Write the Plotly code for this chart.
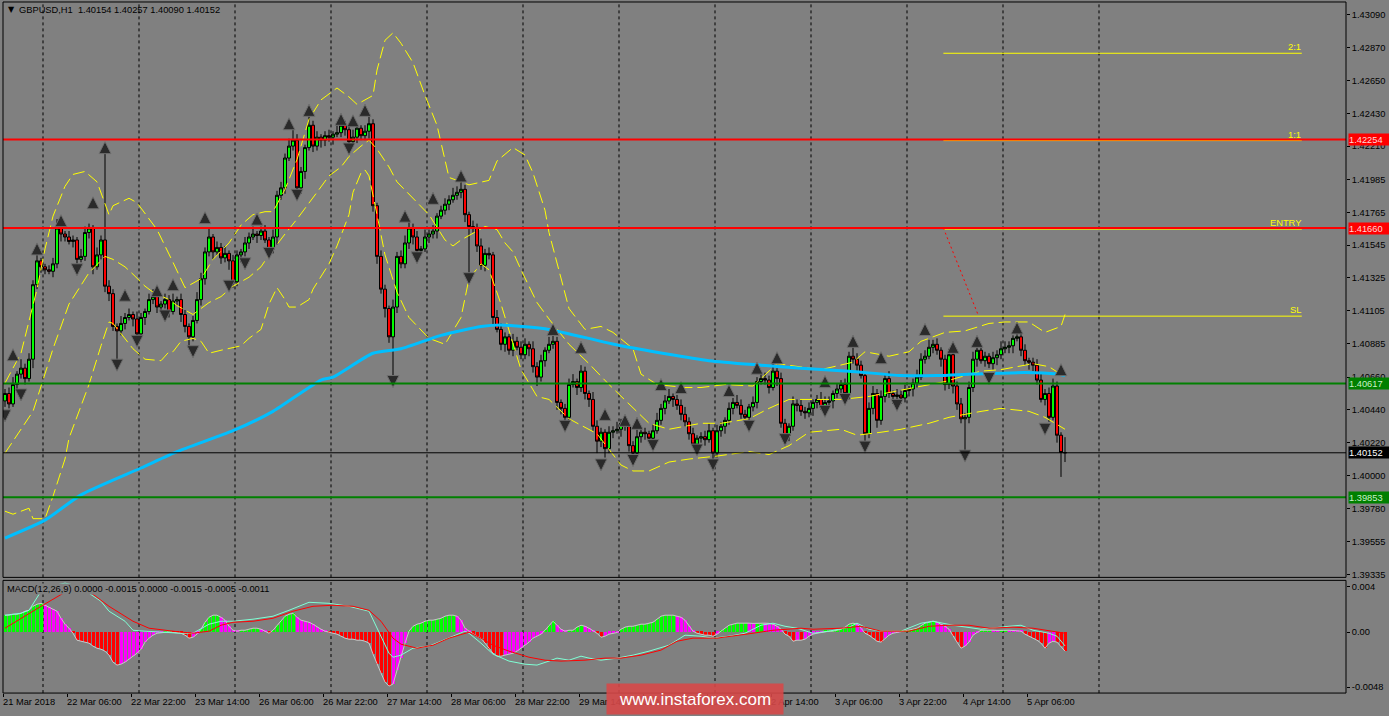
import plotly.graph_objects as go

# ------------------------------------------------------------------ data
symbol_header = "GBPUSD,H1  1.40154 1.40257 1.40090 1.40152"
macd_header = "MACD(12,26,9) 0.0000 -0.0015 0.0000 -0.0015 -0.0005 -0.0011"

x_label_bars = [0, 16, 32, 48, 64, 80, 96, 112, 128, 144, 160, 176, 192, 208, 224, 240, 256]
x_labels = ["21 Mar 2018", "22 Mar 06:00", "22 Mar 22:00", "23 Mar 14:00", "26 Mar 06:00",
            "26 Mar 22:00", "27 Mar 14:00", "28 Mar 06:00", "28 Mar 22:00", "29 Mar 14:00",
            "30 Mar 06:00", "30 Mar 22:00", "2 Apr 14:00", "3 Apr 06:00", "3 Apr 22:00",
            "4 Apr 14:00", "5 Apr 06:00"]
day_start_bars = [10, 34, 58, 82, 106, 130, 154, 178, 202, 226, 250, 274]

first_open = 1.4050
closes = [
    1.4055, 1.4048, 1.4061, 1.4068, 1.4072, 1.4065, 1.4078, 1.4128, 1.4144, 1.4140,
    1.4138, 1.4137, 1.4142, 1.4166, 1.4162, 1.4160, 1.4157, 1.4158, 1.4145, 1.4147,
    1.4163, 1.4166, 1.4140, 1.4148, 1.4158, 1.4127, 1.4122, 1.4100, 1.4097, 1.4102,
    1.4106, 1.4108, 1.4105, 1.4095, 1.4106, 1.4110, 1.4118, 1.4120, 1.4113, 1.4115,
    1.4118, 1.4110, 1.4117, 1.4118, 1.4108, 1.4100, 1.4093, 1.4104, 1.4118, 1.4132,
    1.4150, 1.4160, 1.4150, 1.4153, 1.4146, 1.4149, 1.4144, 1.4130, 1.4148, 1.4150,
    1.4156, 1.4160, 1.4162, 1.4161, 1.4164, 1.4158, 1.4152, 1.4160, 1.4188, 1.4193,
    1.4213, 1.4221, 1.4225, 1.4193, 1.4204, 1.4220, 1.4235, 1.4221, 1.4227, 1.4225,
    1.4228, 1.4227, 1.4229, 1.4230, 1.4235, 1.4232, 1.4224, 1.4227, 1.4233, 1.4228,
    1.4231, 1.4236, 1.4181, 1.4147, 1.4125, 1.4112, 1.4093, 1.4113, 1.4147, 1.4142,
    1.4156, 1.4166, 1.4160, 1.4151, 1.4152, 1.4160, 1.4162, 1.4164, 1.4174, 1.4178,
    1.4182, 1.4185, 1.4188, 1.4190, 1.4192, 1.4175, 1.4167, 1.4166, 1.4154, 1.4141,
    1.4149, 1.4148, 1.4106, 1.4098, 1.4088, 1.4093, 1.4084, 1.4090, 1.4086, 1.4081,
    1.4088, 1.4085, 1.4073, 1.4066, 1.4077, 1.4084, 1.4088, 1.4090, 1.4049, 1.4045,
    1.4039, 1.4061, 1.4063, 1.4059, 1.4070, 1.4055, 1.4051, 1.4033, 1.4023, 1.4029,
    1.4018, 1.4029, 1.4030, 1.4031, 1.4035, 1.4033, 1.4020, 1.4015, 1.4026, 1.4029,
    1.4028, 1.4025, 1.4030, 1.4037, 1.4045, 1.4050, 1.4053, 1.4051, 1.4047, 1.4041,
    1.4036, 1.4028, 1.4021, 1.4025, 1.4026, 1.4024, 1.4030, 1.4015, 1.4030, 1.4033,
    1.4037, 1.4045, 1.4049, 1.4047, 1.4041, 1.4039, 1.4046, 1.4049, 1.4063, 1.4065,
    1.4064, 1.4059, 1.4070, 1.4065, 1.4035, 1.4027, 1.4033, 1.4048, 1.4047, 1.4043,
    1.4042, 1.4045, 1.4049, 1.4051, 1.4046, 1.4049, 1.4050, 1.4055, 1.4058, 1.4061,
    1.4055, 1.4080, 1.4078, 1.4074, 1.4067, 1.4028, 1.4045, 1.4055, 1.4037, 1.4053,
    1.4065, 1.4055, 1.4053, 1.4054, 1.4052, 1.4057, 1.4058, 1.4062, 1.4066, 1.4078,
    1.4080, 1.4086, 1.4088, 1.4084, 1.4078, 1.4061, 1.4081, 1.4060, 1.4048, 1.4038,
    1.4039, 1.4059, 1.4078, 1.4084, 1.4077, 1.4080, 1.4075, 1.4079, 1.4081, 1.4085,
    1.4086, 1.4087, 1.4092, 1.4093, 1.4084, 1.4077, 1.4076, 1.4074, 1.4064, 1.4051,
    1.4055, 1.4039, 1.4060, 1.4027, 1.40154, 1.40152]
wick_up_pips = [
    3, 4, 5, 2, 6, 3, 4, 3, 5, 2,   2, 3, 4, 6, 3, 2, 4, 3, 2, 5,
    4, 3, 2, 5, 3, 62, 4, 3, 2, 5,  3, 4, 2, 5, 3, 2, 4, 5, 3, 2,
    4, 3, 5, 2, 4, 3, 2, 3, 5, 4,   3, 6, 2, 4, 3, 5, 2, 4, 3, 2,
    4, 3, 5, 2, 3, 4, 2, 5, 3, 4,   3, 5, 7, 4, 3, 2, 8, 3, 4, 2,
    3, 4, 2, 5, 2, 3, 4, 5, 3, 2,   4, 7, 3, 2, 4, 3, 2, 5, 3, 4,
    5, 6, 3, 4, 2, 5, 3, 4, 2, 3,   4, 3, 5, 4, 7, 3, 2, 4, 3, 5,
    3, 4, 2, 5, 4, 3, 2, 5, 3, 4,   4, 2, 5, 3, 4, 2, 5, 4, 3, 2,
    3, 4, 5, 2, 4, 3, 2, 5, 4, 3,   2, 4, 3, 5, 3, 4, 2, 3, 5, 4,
    3, 2, 4, 5, 3, 4, 5, 2, 3, 4,   5, 3, 4, 2, 3, 4, 5, 2, 4, 3,
    2, 4, 3, 5, 4, 3, 2, 4, 3, 5,   4, 3, 5, 2, 4, 3, 2, 5, 3, 4,
    3, 4, 2, 3, 5, 4, 3, 2, 4, 3,   4, 3, 7, 4, 3, 2, 4, 5, 3, 4,
    3, 5, 2, 4, 3, 4, 2, 3, 5, 4,   4, 5, 3, 4, 2, 3, 4, 2, 3, 4,
    3, 4, 5, 2, 4, 3, 2, 4, 3, 5,   4, 3, 2, 5, 3, 4, 2, 3, 4, 5,
    3, 4, 5, 3, 2, 10.3]
wick_dn_pips = [
    4, 3, 2, 5, 3, 4, 2, 6, 3, 4,   3, 2, 4, 3, 5, 3, 2, 4, 3, 2,
    3, 4, 5, 2, 3, 4, 5, 3, 24, 3,  4, 2, 5, 4, 3, 5, 2, 3, 4, 3,
    3, 4, 2, 3, 5, 4, 7, 3, 2, 4,   4, 3, 5, 2, 4, 3, 6, 4, 3, 5,
    3, 4, 2, 5, 3, 2, 4, 3, 5, 3,   4, 2, 3, 3, 4, 5, 2, 4, 3, 5,
    4, 3, 5, 2, 3, 4, 2, 3, 4, 3,   3, 5, 4, 5, 3, 6, 4, 28, 4, 3,
    3, 4, 5, 5, 3, 2, 4, 3, 5, 2,   3, 4, 2, 3, 4, 5, 34, 3, 4, 3,
    4, 3, 5, 2, 4, 5, 3, 4, 2, 3,   3, 5, 4, 6, 3, 4, 2, 3, 5, 4,
    4, 3, 2, 5, 3, 4, 5, 3, 8, 4,   6, 3, 4, 2, 5, 3, 4, 7, 3, 4,
    4, 3, 5, 2, 3, 4, 2, 5, 3, 4,   3, 4, 2, 5, 3, 4, 2, 7, 3, 4,
    5, 3, 4, 2, 3, 5, 4, 3, 4, 2,   3, 4, 2, 5, 3, 5, 4, 3, 4, 3,
    4, 3, 5, 4, 2, 3, 4, 5, 3, 4,   3, 4, 3, 5, 2, 6, 3, 4, 5, 3,
    4, 3, 5, 2, 4, 3, 4, 5, 3, 2,   3, 2, 4, 3, 5, 4, 3, 5, 4, 3,
    23, 4, 3, 5, 2, 4, 3, 4, 5, 3,  3, 4, 5, 2, 4, 3, 5, 4, 3, 2,
    4, 3, 2, 5, 16.4, 6.2]

ma_bars = [0, 10, 19, 34, 43, 57, 67, 79, 82, 92, 99, 109, 119, 124, 129, 136, 154, 176,
           189, 199, 211, 224, 233, 242, 255, 263, 265]
ma_values = [1.3958, 1.3970, 1.3987, 1.4005, 1.4016, 1.4030, 1.4043, 1.4064, 1.4066, 1.4082,
             1.4085, 1.4094, 1.4100, 1.4101, 1.4100, 1.4098, 1.4087, 1.4077, 1.4074, 1.4072,
             1.4070, 1.4067, 1.4067, 1.4068, 1.4069, 1.4068, 1.4067]

bb_upper_bars = [0, 4, 8, 10, 12, 15, 17, 20, 23, 26, 27, 31, 33, 36, 38, 42, 45, 49, 52, 56,
                 59, 62, 65, 67, 70, 73, 76, 79, 83, 86, 88, 90, 92, 93, 95, 97, 99, 102, 105, 108,
                 111, 114, 116, 121, 123, 127, 130, 132, 135, 136, 139, 141, 145, 149, 152, 157,
                 159, 163, 170, 174, 180, 187, 193, 198, 204, 212, 215, 221, 226, 229, 235, 240,
                 246, 250, 256, 260, 264, 265]
bb_upper = [1.4062, 1.4082, 1.4125, 1.4152, 1.4174, 1.4194, 1.4202, 1.4204, 1.4197, 1.4175,
            1.4181, 1.4186, 1.4183, 1.4172, 1.4165, 1.4143, 1.4126, 1.4132, 1.4145, 1.4156,
            1.4168, 1.4175, 1.4177, 1.4177, 1.4192, 1.4212, 1.4239, 1.4252, 1.4260, 1.4254,
            1.4249, 1.4252, 1.4255, 1.4272, 1.4292, 1.4297, 1.4290, 1.4277, 1.4255, 1.4235,
            1.4200, 1.4197, 1.4195, 1.4198, 1.4211, 1.4220, 1.4215, 1.4203, 1.4178, 1.4163,
            1.4132, 1.4112, 1.4098, 1.4100, 1.4096, 1.4085, 1.4068, 1.4061, 1.4059, 1.4059,
            1.4061, 1.4060, 1.4075, 1.4073, 1.4071, 1.4076, 1.4083, 1.4080, 1.4083, 1.4090,
            1.4096, 1.4097, 1.4102, 1.4103, 1.4103, 1.4096, 1.4100, 1.4108]
bb_mid_bars = [0, 7, 12, 16, 21, 25, 27, 30, 32, 35, 37, 41, 43, 47, 51, 54, 57, 61, 64, 66,
               70, 73, 78, 81, 84, 86, 89, 91, 93, 96, 98, 101, 103, 106, 110, 112, 114, 120,
               123, 125, 127, 129, 133, 136, 141, 146, 151, 156, 161, 166, 174, 179, 186, 191,
               196, 202, 209, 216, 224, 228, 235, 240, 244, 249, 253, 257, 261, 265]
bb_mid = [1.4015, 1.4043, 1.4085, 1.4115, 1.4136, 1.4147, 1.4145, 1.4140, 1.4135, 1.4127,
          1.4123, 1.4118, 1.4114, 1.4108, 1.4116, 1.4120, 1.4127, 1.4133, 1.4140, 1.4148,
          1.4162, 1.4172, 1.4190, 1.4201, 1.4207, 1.4214, 1.4221, 1.4225, 1.4219, 1.4207,
          1.4197, 1.4189, 1.4183, 1.4175, 1.4158, 1.4154, 1.4158, 1.4167, 1.4165, 1.4156,
          1.4150, 1.4138, 1.4116, 1.4105, 1.4088, 1.4075, 1.4061, 1.4048, 1.4035, 1.4031,
          1.4035, 1.4035, 1.4038, 1.4045, 1.4051, 1.4051, 1.4051, 1.4053, 1.4057, 1.4059,
          1.4063, 1.4067, 1.4070, 1.4071, 1.4073, 1.4075, 1.4073, 1.4066]
bb_lower_bars = [0, 2, 4, 6, 7, 10, 12, 15, 16, 19, 21, 24, 26, 27, 30, 32, 35, 39, 41, 42,
                 44, 47, 49, 51, 54, 56, 59, 61, 64, 66, 68, 70, 71, 73, 76, 77, 81, 83, 86, 87,
                 89, 90, 91, 93, 95, 98, 101, 106, 110, 114, 116, 119, 121, 124, 129, 133, 136,
                 141, 148, 154, 157, 161, 166, 171, 178, 186, 191, 196, 201, 209, 213, 219, 224,
                 231, 236, 244, 249, 256, 260, 265]
bb_lower = [1.3976, 1.3974, 1.3976, 1.3978, 1.3971, 1.3971, 1.3986, 1.4011, 1.4025, 1.4046,
            1.4061, 1.4087, 1.4103, 1.4102, 1.4092, 1.4085, 1.4078, 1.4077, 1.4083, 1.4083,
            1.4090, 1.4092, 1.4090, 1.4082, 1.4084, 1.4085, 1.4087, 1.4092, 1.4098, 1.4115,
            1.4126, 1.4118, 1.4113, 1.4113, 1.4118, 1.4125, 1.4142, 1.4154, 1.4175, 1.4190,
            1.4203, 1.4205, 1.4201, 1.4175, 1.4148, 1.4123, 1.4106, 1.4092, 1.4088, 1.4106,
            1.4132, 1.4142, 1.4138, 1.4115, 1.4071, 1.4053, 1.4051, 1.4038, 1.4028, 1.4007,
            1.4003, 1.4003, 1.4009, 1.4011, 1.4013, 1.4016, 1.4014, 1.4020, 1.4029, 1.4031,
            1.4027, 1.4029, 1.4031, 1.4035, 1.4039, 1.4043, 1.4045, 1.4043, 1.4039, 1.4031]

fractal_up_bars = [2, 8, 14, 22, 25, 30, 38, 42, 50, 63, 71, 76, 84, 87, 90, 100, 107, 114,
                   137, 144, 150, 155, 158, 164, 169, 181, 188, 193, 205, 212, 219, 230, 237,
                   243, 253, 264]
fractal_up_prices = [1.4085, 1.4156, 1.4175, 1.4187, 1.4224, 1.4125, 1.4128, 1.4132, 1.4177,
                     1.4176, 1.4240, 1.4249, 1.4243, 1.4242, 1.4249, 1.4178, 1.4190, 1.4205,
                     1.4102, 1.4090, 1.4045, 1.4041, 1.4039, 1.4065, 1.4063, 1.4061, 1.4076,
                     1.4083, 1.4067, 1.4094, 1.4083, 1.4102, 1.4090, 1.4094, 1.4103, 1.4075]
fractal_dn_bars = [0, 4, 18, 28, 33, 40, 47, 56, 60, 66, 73, 86, 97, 103, 116, 140, 149, 157,
                   162, 173, 177, 186, 195, 205, 210, 215, 223, 240, 246, 260]
fractal_dn_prices = [1.4036, 1.4050, 1.4134, 1.4070, 1.4086, 1.4103, 1.4079, 1.4123, 1.4138,
                     1.4145, 1.4184, 1.4215, 1.4059, 1.4142, 1.4128, 1.4029, 1.4003, 1.4006,
                     1.4016, 1.4013, 1.4003, 1.4029, 1.4020, 1.4039, 1.4047, 1.4015, 1.4043,
                     1.4009, 1.4061, 1.4027]

macd_hist = [
    0.00149, 0.00149, 0.00157, 0.00157, 0.00166, 0.00184, 0.00192, 0.00227, 0.00245, 0.00253,
    0.00236, 0.00219, 0.00201, 0.00184, 0.00122, 0.0007, 0.00035, -0.00009, -0.0007, -0.00079,
    -0.00087, -0.00096, -0.00122, -0.0014, -0.00149, -0.00166, -0.00201, -0.00262, -0.00288, -0.0028,
    -0.00262, -0.00236, -0.0021, -0.00184, -0.00149, -0.00087, -0.00052, -0.00026, -0.00009, -0.00004,
    0.00002, 0.00003, -0.00002, -0.00004, -0.00009, -0.00026, -0.00052, -0.00044, -0.00017, 0.00026,
    0.00087, 0.00131, 0.00149, 0.00149, 0.00131, 0.00105, 0.00052, 0.00017, 0.00009, 0.00017,
    0.00017, 0.00026, 0.00035, 0.00035, 0.00026, 0.00009, -0.00009, 0.00017, 0.00061, 0.00105,
    0.0014, 0.00157, 0.00166, 0.00131, 0.00105, 0.00096, 0.00087, 0.0007, 0.00044, 0.00026,
    0.00009, -0.00003, -0.00009, -0.00017, -0.00035, -0.00052, -0.00061, -0.00061, -0.0007, -0.0007,
    -0.00079, -0.00096, -0.00192, -0.0028, -0.00358, -0.00437, -0.00472, -0.00454, -0.00332, -0.00227,
    -0.00096, 0.00009, 0.00052, 0.0007, 0.00079, 0.00096, 0.00105, 0.00105, 0.00114, 0.00122,
    0.0014, 0.00149, 0.00149, 0.0014, 0.00105, 0.00035, 0.00009, -0.00017, -0.00035, -0.00052,
    -0.00096, -0.00149, -0.00184, -0.0021, -0.0021, -0.00201, -0.00192, -0.00184, -0.00166, -0.0014,
    -0.00114, -0.00087, -0.00052, -0.00035, -0.00017, 0.00017, 0.00061, 0.00096, 0.00061, 0.00026,
    0.00009, 0.00017, 0.00017, 0.00044, 0.00061, 0.00052, 0.00035, 0.00009, -0.00009, -0.00044,
    -0.00035, -0.00017, -0.00009, -0.00003, 0.00026, 0.00044, 0.00052, 0.00052, 0.00061, 0.0007,
    0.0007, 0.00079, 0.00087, 0.00114, 0.0014, 0.00149, 0.00149, 0.00149, 0.0014, 0.00131,
    0.00105, 0.00052, 0.00009, -0.00009, -0.00017, -0.00026, -0.00026, -0.00035, -0.00017, 0.00009,
    0.00035, 0.00061, 0.0007, 0.00079, 0.00079, 0.00081, 0.00079, 0.00077, 0.00079, 0.00081,
    0.00079, 0.00077, 0.0007, 0.00052, 0.00026, -0.00017, -0.00035, -0.00079, -0.0007, -0.0007,
    -0.00061, -0.00035, -0.00017, -0.00009, -0.00003, 0.00009, 0.00009, 0.00009, 0.00017, 0.00026,
    0.00044, 0.0007, 0.00079, 0.0007, 0.00035, -0.00009, -0.00026, -0.00052, -0.00079, -0.00087,
    -0.00052, -0.00026, -0.00009, -0.00003, 0.00009, 0.00009, 0.00017, 0.00026, 0.00035, 0.00061,
    0.00079, 0.00087, 0.00096, 0.00087, 0.0007, 0.00052, 0.00026, -0.00035, -0.00087, -0.0014,
    -0.00122, -0.00087, -0.00026, -0.00003, 0.00017, 0.00017, 0.00019, 0.00017, 0.00015, 0.00017,
    0.00019, 0.00017, 0.00015, 0.00013, 0.00009, -0.00017, -0.00035, -0.00052, -0.0007, -0.00096,
    -0.0014, -0.00096, -0.00079, -0.00087, -0.00122, -0.00166]
macd_main_bars = [0, 4, 6, 8, 9, 11, 15, 19, 21, 24, 26, 30, 32, 35, 39, 44, 47, 51, 54, 57,
                  62, 67, 71, 74, 76, 81, 86, 91, 93, 96, 97, 99, 102, 106, 109, 112, 115, 116,
                  119, 122, 126, 130, 133, 136, 138, 141, 144, 146, 149, 153, 157, 161, 166, 170,
                  174, 177, 181, 185, 189, 192, 195, 198, 202, 206, 211, 213, 216, 219, 224, 229,
                  232, 237, 244, 251, 254, 257, 261, 263, 265]
macd_main = [0.00149, 0.00166, 0.00192, 0.00297, 0.00358, 0.0040, 0.0043, 0.0040, 0.00341, 0.00271,
             0.00184, 0.00096, 0.00017, 0.00009, 0.0, -0.00009, -0.00009, 0.0007, 0.00096, 0.00096,
             0.00114, 0.0014, 0.00192, 0.00236, 0.00262, 0.00253, 0.00227, 0.00184, 0.00035, -0.00184,
             -0.00219, -0.00201, -0.0014, -0.00122, -0.00079, -0.00035, 0.00009, -0.00009, -0.00096, -0.00192,
             -0.00253, -0.0028, -0.00288, -0.00253, -0.00227, -0.00245, -0.0021, -0.00227, -0.00245, -0.00227,
             -0.00201, -0.00166, -0.00114, -0.00026, -0.00035, -0.00052, -0.00035, -0.00009, 0.00061, 0.00079,
             0.00052, 0.00035, -0.00009, 0.00009, 0.00044, 0.00079, 0.00026, 0.00009, 0.00009, 0.00079,
             0.00096, 0.00061, 0.00026, 0.00052, 0.00061, 0.00017, -0.00009, -0.00035, -0.0012]
macd_signal_bars = [0, 4, 9, 15, 18, 22, 26, 32, 36, 42, 47, 51, 54, 57, 62, 67, 72, 77, 82, 87,
                    91, 94, 97, 99, 103, 107, 111, 116, 119, 122, 126, 131, 135, 139, 145, 150,
                    154, 159, 164, 168, 172, 178, 182, 187, 192, 199, 202, 209, 214, 219, 226,
                    231, 236, 241, 246, 252, 257, 262, 265]
macd_signal = [0.00035, 0.00122, 0.00227, 0.0035, 0.0040, 0.00332, 0.00227, 0.00096, 0.00035, 0.00009,
               -0.00009, 0.00009, 0.00061, 0.00087, 0.00096, 0.00122, 0.00184, 0.00227, 0.00236, 0.00227,
               0.00192, 0.00096, -0.00052, -0.00105, -0.0014, -0.00114, -0.00052, 0.0, -0.00052, -0.00114,
               -0.00166, -0.00219, -0.00245, -0.00253, -0.00245, -0.00227, -0.00227, -0.00201, -0.00157, -0.00079,
               -0.00052, -0.00052, -0.00035, -0.00009, 0.00017, 0.00035, 0.00026, 0.00035, 0.00052, 0.00009,
               0.00009, 0.00052, 0.00061, 0.00061, 0.00035, 0.00044, 0.00035, 0.00009, -0.00009]

resistance_levels = [1.42254, 1.41660]
support_levels = [1.40617, 1.39853]
bid_price = 1.40152
trade_labels = ["2:1", "1:1", "ENTRY", "SL"]
trade_prices = [1.42833, 1.42247, 1.41653, 1.41069]
trade_start_bar = 234.6
trade_end_bar = 324.2
sl_link_bar = 243.2
sl_link_price = 1.41083

price_ticks = [1.43090, 1.42870, 1.42650, 1.42430, 1.42210, 1.41985, 1.41765, 1.41545, 1.41325,
               1.41105, 1.40885, 1.40660, 1.40440, 1.40220, 1.40000, 1.39780, 1.39555, 1.39335]
macd_ticks = [0.004, 0.0, -0.0048]
macd_tick_text = ["0.004", "0.00", "-0.0048"]
watermark = "www.instaforex.com"

# ------------------------------------------------------------------ geometry / style
W, H = 1389, 716
PL, PR = 3, 1346          # plot left / right border (px)
MT, MB = 2, 579           # main panel top / bottom
ST, SB = 582, 695         # MACD panel top / bottom
BAR_PX, BAR0_X = 4.0, 5.0
PIP = 0.0001
FONT = "Liberation Sans"
GRAY = "#808080"


def fx(px):
    return px / W


def fy(py):
    return 1 - py / H


x_range = [(PL - BAR0_X) / BAR_PX, (PR - BAR0_X) / BAR_PX]
price_range = [1.39316, 1.43177]
macd_range = [-0.00533, 0.00454]

n = len(closes)
bars = list(range(n))
opens = [first_open] + closes[:-1]
highs = [max(o, c) + u * PIP for o, c, u in zip(opens, closes, wick_up_pips)]
lows = [min(o, c) - d * PIP for o, c, d in zip(opens, closes, wick_dn_pips)]

hist_colors = []
for k, v in enumerate(macd_hist):
    prev = macd_hist[k - 1] if k else v
    if v >= 0:
        hist_colors.append("#00FF00" if v >= prev else "#FF00FF")
    else:
        hist_colors.append("#FF0000" if v <= prev else "#FF00FF")

fig = go.Figure()

# candles
fig.add_trace(go.Candlestick(
    x=bars, open=opens, high=highs, low=lows, close=closes,
    increasing=dict(line=dict(color="black", width=1), fillcolor="#00FF00"),
    decreasing=dict(line=dict(color="black", width=1), fillcolor="#FF0000"),
    whiskerwidth=0, xaxis="x", yaxis="y", hoverinfo="skip", showlegend=False))

# Bollinger bands
for bx, by in [(bb_upper_bars, bb_upper), (bb_mid_bars, bb_mid), (bb_lower_bars, bb_lower)]:
    fig.add_trace(go.Scatter(x=bx, y=by, mode="lines",
                             line=dict(color="#FFFF00", width=1, dash="12px,5px"),
                             xaxis="x", yaxis="y", hoverinfo="skip", showlegend=False))

# moving average
fig.add_trace(go.Scatter(x=ma_bars, y=ma_values, mode="lines",
                         line=dict(color="#00BFFF", width=3, shape="spline", smoothing=0.6),
                         xaxis="x", yaxis="y", hoverinfo="skip", showlegend=False))

# fractals
for fb, fp, sym in [(fractal_up_bars, fractal_up_prices, "arrow-up"),
                    (fractal_dn_bars, fractal_dn_prices, "arrow-down")]:
    fig.add_trace(go.Scatter(x=fb, y=fp, mode="markers",
                             marker=dict(symbol=sym, size=12, color="#2a2a2a",
                                         line=dict(color="#6e6e6e", width=1)),
                             xaxis="x", yaxis="y", hoverinfo="skip", showlegend=False))

# MACD
fig.add_trace(go.Bar(x=bars, y=macd_hist, width=0.75, marker=dict(color=hist_colors, line=dict(width=0)),
                     xaxis="x2", yaxis="y2", hoverinfo="skip", showlegend=False))
fig.add_trace(go.Scatter(x=bars, y=macd_hist, mode="lines", line=dict(color="#C8C8C8", width=1),
                         xaxis="x2", yaxis="y2", hoverinfo="skip", showlegend=False))
fig.add_trace(go.Scatter(x=macd_main_bars, y=macd_main, mode="lines",
                         line=dict(color="#7FFFD4", width=1),
                         xaxis="x2", yaxis="y2", hoverinfo="skip", showlegend=False))
fig.add_trace(go.Scatter(x=macd_signal_bars, y=macd_signal, mode="lines",
                         line=dict(color="#FF0000", width=1),
                         xaxis="x2", yaxis="y2", hoverinfo="skip", showlegend=False))

shapes = []
# day separators
for d in day_start_bars:
    for top, bot in [(MT, MB), (ST, SB)]:
        shapes.append(dict(type="line", xref="x", yref="paper", x0=d - 0.5, x1=d - 0.5,
                           y0=fy(bot), y1=fy(top), layer="below",
                           line=dict(color="black", width=1, dash="3px,3px")))
# trade lines (drawn first so the level lines sit on top)
for p in trade_prices:
    shapes.append(dict(type="line", xref="x", yref="y", x0=trade_start_bar, x1=trade_end_bar,
                       y0=p, y1=p, line=dict(color="#FFFF00", width=1)))
shapes.append(dict(type="line", xref="x", yref="y", x0=trade_start_bar, x1=sl_link_bar,
                   y0=resistance_levels[1], y1=sl_link_price,
                   line=dict(color="#FF0000", width=1, dash="2px,3px")))
# levels
for p in resistance_levels:
    shapes.append(dict(type="line", xref="paper", yref="y", x0=fx(PL), x1=fx(PR), y0=p, y1=p,
                       line=dict(color="#FF0000", width=2)))
for p in support_levels:
    shapes.append(dict(type="line", xref="paper", yref="y", x0=fx(PL), x1=fx(PR), y0=p, y1=p,
                       line=dict(color="#008000", width=2)))
shapes.append(dict(type="line", xref="paper", yref="y", x0=fx(PL), x1=fx(PR), y0=bid_price,
                   y1=bid_price, line=dict(color="black", width=1)))
# panel borders
for top, bot in [(MT, MB), (ST, SB)]:
    shapes.append(dict(type="rect", xref="paper", yref="paper", x0=fx(PL), x1=fx(PR),
                       y0=fy(bot), y1=fy(top), line=dict(color="black", width=1),
                       fillcolor="rgba(0,0,0,0)"))

ann = []
ann.append(dict(xref="paper", yref="paper", x=fx(6), y=fy(10), xanchor="left", yanchor="middle",
                text="▼", showarrow=False, font=dict(family="DejaVu Sans", size=8, color="black")))
ann.append(dict(xref="paper", yref="paper", x=fx(17), y=fy(10), xanchor="left", yanchor="middle",
                text=symbol_header, showarrow=False, font=dict(family=FONT, size=9.3, color="black")))
ann.append(dict(xref="paper", yref="paper", x=fx(6), y=fy(591), xanchor="left", yanchor="middle",
                text=macd_header, showarrow=False, bgcolor=GRAY, borderpad=0,
                font=dict(family=FONT, size=9.3, color="black")))
for b, t in zip(x_label_bars, x_labels):
    ann.append(dict(xref="x2", yref="paper", x=b - 0.5, y=fy(704), xanchor="left", yanchor="middle",
                    text=t, showarrow=False, borderpad=0, xshift=-1,
                    font=dict(family=FONT, size=9.3, color="black")))
tag_styles = [(resistance_levels[0], "#FF0000", "#FFD8D8"), (resistance_levels[1], "#FF0000", "#FFD8D8"),
              (support_levels[0], "#008000", "#C8F0C8"), (support_levels[1], "#008000", "#C8F0C8"),
              (bid_price, "#000000", "#FFFFFF")]
for p, bg, fg in tag_styles:
    ann.append(dict(xref="paper", yref="y", x=fx(1348), y=p, xanchor="left", yanchor="middle",
                    text="%.5f" % p, showarrow=False, bgcolor=bg, borderpad=0, width=41, height=11,
                    align="left", font=dict(family=FONT, size=9.3, color=fg)))
for p, t in zip(trade_prices, trade_labels):
    ann.append(dict(xref="x", yref="y", x=trade_end_bar, y=p, xanchor="right", yanchor="bottom",
                    text=t, showarrow=False, borderpad=0, yshift=0,
                    font=dict(family=FONT, size=9.3, color="#FFFF00")))
# watermark banner (drawn last so it covers the axis labels beneath it)
ann.append(dict(xref="paper", yref="paper", x=fx(695), y=fy(701), xanchor="center", yanchor="middle",
                text=watermark, showarrow=False, bgcolor="rgba(214,72,72,0.9)", borderpad=0,
                width=176, height=30, align="center",
                font=dict(family=FONT, size=17, color="white")))

axis_common = dict(showgrid=False, zeroline=False, fixedrange=True)
tickfont = dict(family=FONT, size=9.3, color="black")
fig.update_layout(
    width=W, height=H, margin=dict(l=0, r=0, t=0, b=0, pad=0),
    paper_bgcolor=GRAY, plot_bgcolor=GRAY, showlegend=False,
    boxgap=0.25, boxgroupgap=0, bargap=0,
    xaxis=dict(domain=[fx(PL), fx(PR)], range=x_range, anchor="y", showticklabels=False,
               ticks="", rangeslider=dict(visible=False), **axis_common),
    yaxis=dict(domain=[fy(MB), fy(MT)], range=price_range, anchor="x", side="right",
               tickvals=price_ticks, ticktext=["%.5f" % v for v in price_ticks],
               ticks="outside", ticklen=3, tickcolor="black", tickfont=tickfont, **axis_common),
    xaxis2=dict(domain=[fx(PL), fx(PR)], range=x_range, anchor="y2",
                tickvals=[b - 0.5 for b in x_label_bars], showticklabels=False,
                ticks="outside", ticklen=3, tickcolor="black", **axis_common),
    yaxis2=dict(domain=[fy(SB), fy(ST)], range=macd_range, anchor="x2", side="right",
                tickvals=macd_ticks, ticktext=macd_tick_text,
                ticks="outside", ticklen=3, tickcolor="black", tickfont=tickfont, **axis_common),
    shapes=shapes, annotations=ann,
)

fig.write_html("out.html", config={"displayModeBar": False},
               post_script="document.body.style.margin='0';document.body.style.overflow='hidden';")
